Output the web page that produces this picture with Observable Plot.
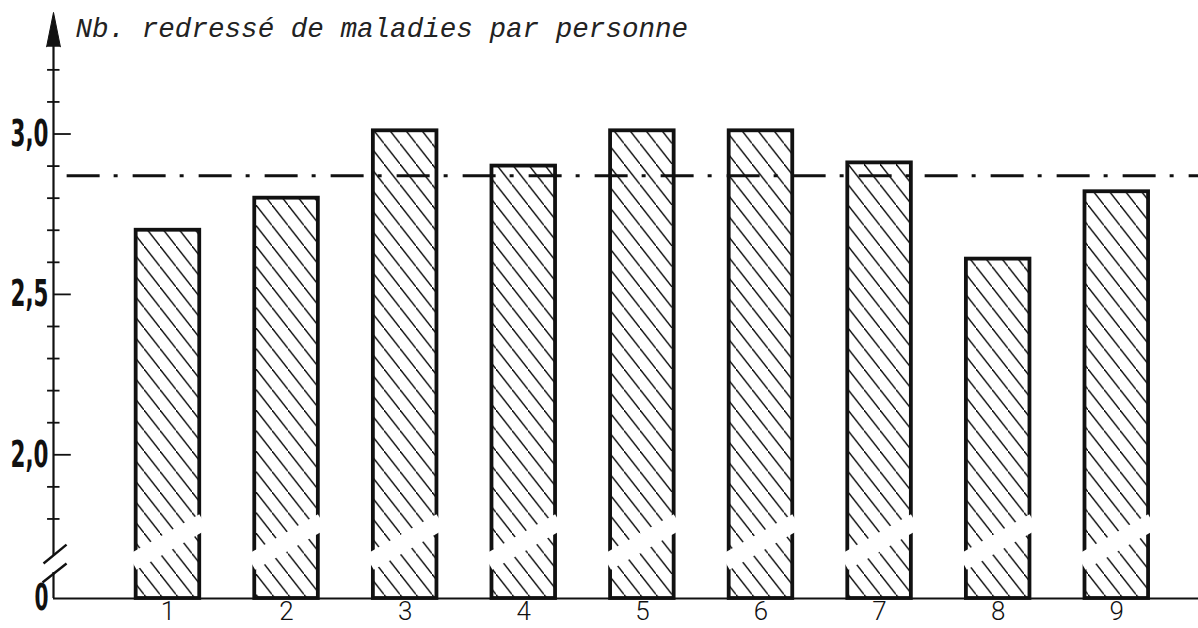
<!DOCTYPE html>
<html><head><meta charset="utf-8">
<script src="https://cdn.jsdelivr.net/npm/d3@7"></script>
<script src="https://cdn.jsdelivr.net/npm/@observablehq/plot@0.6"></script>
<style>
html,body{margin:0;padding:0;background:#fff;}
#chart{position:relative;width:1198px;height:628px;overflow:hidden;}
</style></head><body><div id="chart"></div>
<script>
// ---- data ----
const categories = [1, 2, 3, 4, 5, 6, 7, 8, 9];
const values = [2.70, 2.80, 3.01, 2.90, 3.01, 3.01, 2.91, 2.61, 2.82];
const average = [2.87];
const yTickValues = [0, 2.0, 2.5, 3.0];
const yMinorTicks = [1.8, 1.9, 2.1, 2.2, 2.3, 2.4, 2.6, 2.7, 2.8, 2.9, 3.1, 3.2];
const title = "Nb. redressé de maladies par personne";

// ---- layout constants ----
const X0 = 0.035, XMAX = 9.689;   // y axis position and right end (x units)
const HALF = 0.268;               // half bar width (x units)
const INK = "#111";

const bars = categories.map((c, i) => ({cat: c, value: values[i]}));
// white diagonal break across each bar
const breakBand = categories.map(c => ({x1: c - 0.3, x2: c + 0.3, y1: 1.665, y2: 1.792}));
// y axis line, interrupted at the break
const axisSegments = [{y1: 0, y2: 1.633}, {y1: 1.686, y2: 3.29}];
const slashes = [
  {x1: -0.049, y1: 1.661, x2: 0.145, y2: 1.720},
  {x1: -0.058, y1: 1.602, x2: 0.145, y2: 1.661}
];
const arrowHead = [
  {x: X0 - 0.058, y: 3.272}, {x: X0, y: 3.379}, {x: X0 + 0.058, y: 3.272}
];

const chart = Plot.plot({
  width: 1198, height: 628,
  marginLeft: 53, marginRight: 0, marginTop: 0, marginBottom: 30,
  x: {type: "linear", domain: [X0, XMAX], range: [53, 1198], axis: null},
  y: {type: "linear", domain: [0, 1.6, 3.4], range: [598, 582.6, 5.2], axis: null},
  style: {background: "white", color: INK, overflow: "visible"},
  marks: [
    Plot.rect(bars, {
      x1: d => d.cat - HALF, x2: d => d.cat + HALF, y1: 0, y2: "value",
      fill: "url(#hatch)", stroke: INK, strokeWidth: 3.8
    }),
    Plot.link(breakBand, {x1: "x1", y1: "y1", x2: "x2", y2: "y2", stroke: "white", strokeWidth: 17}),
    Plot.ruleY(average, {x1: 0.15, x2: XMAX, stroke: INK, strokeWidth: 3, strokeDasharray: "33 14 4 15"}),
    Plot.ruleY([0], {stroke: INK, strokeWidth: 1.8}),
    Plot.ruleX(axisSegments, {x: X0, y1: "y1", y2: "y2", stroke: INK, strokeWidth: 2.2}),
    Plot.link(slashes, {x1: "x1", y1: "y1", x2: "x2", y2: "y2", stroke: INK, strokeWidth: 2.4}),
    Plot.line(arrowHead, {x: "x", y: "y", fill: INK, stroke: INK, strokeWidth: 1}),
    Plot.ruleY(yMinorTicks, {x1: X0 - 0.05, x2: X0 + 0.055, stroke: INK, strokeWidth: 1.8}),
    Plot.ruleY(yTickValues.filter(v => v > 0), {x1: X0, x2: X0 + 0.15, stroke: INK, strokeWidth: 1.8}),
    Plot.axisY(yTickValues, {
      anchor: "left", tickSize: 0, tickPadding: 5, label: null,
      tickFormat: d => d === 0 ? "0" : d.toFixed(1).replace(".", ","),
      fontSize: 37, fontWeight: "bold",
      fontFamily: "'Liberation Sans Narrow', 'DejaVu Sans Condensed', sans-serif"
    }),
    Plot.axisX(categories, {
      anchor: "bottom", tickSize: 0, tickPadding: 3, label: null,
      tickFormat: d => String(d),
      fontSize: 26, fontWeight: 300, fontFamily: "Roboto, 'Noto Sans', sans-serif"
    }),
    Plot.text([title], {
      text: d => d, frameAnchor: "top-left", dx: 22, dy: 17,
      lineAnchor: "top", textAnchor: "start",
      fontFamily: "'Liberation Mono', 'DejaVu Sans Mono', monospace",
      fontStyle: "italic", fontSize: 27.6, fill: "#222"
    })
  ]
});

// "\" hatching: horizontal spacing 16px, lines at ~52° from horizontal
const ns = "http://www.w3.org/2000/svg";
const defs = document.createElementNS(ns, "defs");
defs.innerHTML = '<pattern id="hatch" patternUnits="userSpaceOnUse" width="16" height="20.5">' +
  '<rect width="16" height="20.5" fill="white"/>' +
  '<line x1="-2" y1="-2.56" x2="18" y2="23.06" stroke="#111" stroke-width="1.4"/></pattern>';
chart.insertBefore(defs, chart.firstChild);

// condense the bold y tick labels like the printed narrow face
chart.querySelectorAll('g[aria-label="y-axis tick label"] text').forEach(t => {
  const s = t.textContent;
  t.setAttribute("textLength", s.length > 1 ? 38 : 14);
  t.setAttribute("lengthAdjust", "spacingAndGlyphs");
});
document.getElementById("chart").appendChild(chart);
</script>
</body></html>
